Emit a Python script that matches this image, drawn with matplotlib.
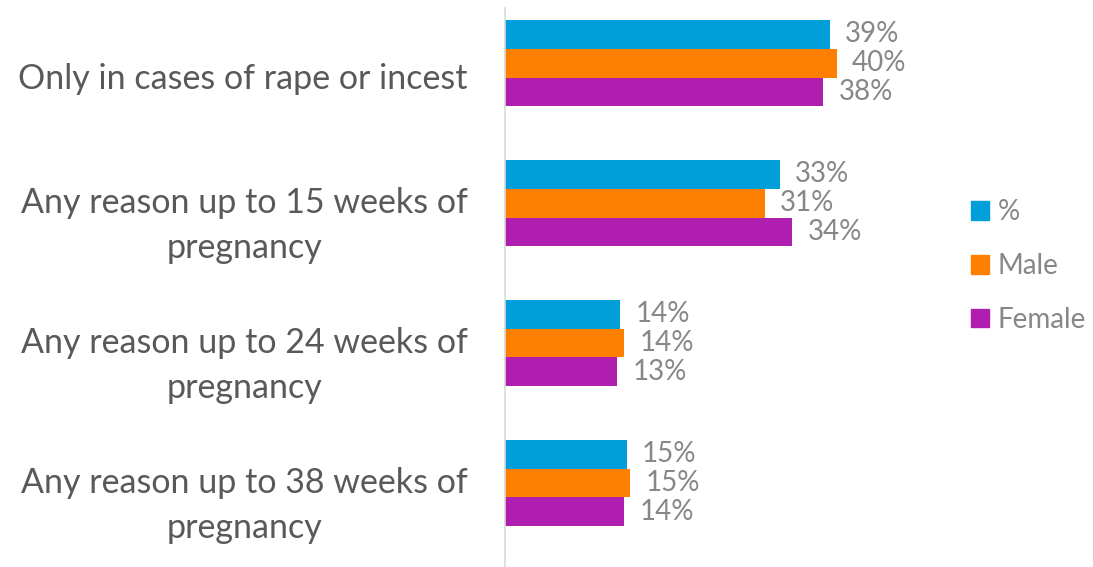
import matplotlib
matplotlib.use("Agg")
import matplotlib.pyplot as plt
import matplotlib.transforms as mtransforms
from matplotlib.patches import Patch
import numpy as np

plt.rcParams['font.family'] = ['Lato', 'DejaVu Sans']

# Data
categories = [
    "Only in cases of rape or incest",
    "Any reason up to 15 weeks of\npregnancy",
    "Any reason up to 24 weeks of\npregnancy",
    "Any reason up to 38 weeks of\npregnancy",
]
series_names = ["%", "Male", "Female"]
total_pct = [39.0, 33.0, 13.8, 14.6]
male_pct = [39.8, 31.2, 14.3, 15.0]
female_pct = [38.2, 34.5, 13.5, 14.3]
value_labels = [
    ["39%", "33%", "14%", "15%"],
    ["40%", "31%", "14%", "15%"],
    ["38%", "34%", "13%", "14%"],
]
colors = ["#009FDA", "#FF8000", "#B01EAF"]

W, H = 1093, 567
fig = plt.figure(figsize=(W / 100, H / 100), dpi=100)
# axes in pixel coords: left 505, right 940, top 8, bottom 567
ax = fig.add_axes([505 / W, 0, (940 - 505) / W, (567 - 8) / H])

bar_h = 0.207
y = np.arange(len(categories))
all_vals = [total_pct, male_pct, female_pct]
for i, (vals, col, name) in enumerate(zip(all_vals, colors, series_names)):
    pos = y + (i - 1) * bar_h
    ax.barh(pos, vals, height=bar_h, color=col, label=name)
    for p, v, lab in zip(pos, vals, value_labels[i]):
        ax.annotate(lab, (v, p), xytext=(11, 0), textcoords="offset points",
                    va="center", ha="left", fontsize=20, color="#878787")

ax.set_xlim(0, (940 - 505) / 8.33)
ax.set_ylim(3.6, -0.393)
ax.set_yticks(y)
ax.set_yticklabels(categories, fontsize=24.5, color="#595959", linespacing=1.5)
ax.tick_params(axis="y", length=0, pad=27)
ax.set_xticks([])
for s in ["top", "right", "bottom"]:
    ax.spines[s].set_visible(False)
ax.spines["left"].set_color("#D9D9D9")
ax.spines["left"].set_linewidth(1.2)

offset = mtransforms.ScaledTranslation(0, -9 / 72, fig.dpi_scale_trans)
for lab in ax.get_yticklabels():
    lab.set_transform(lab.get_transform() + offset)
    lab.set_ha("right")
    lab.set_multialignment("center")

handles = [Patch(color=c, label=n) for c, n in zip(colors, series_names)]
fig.legend(handles=handles, loc="center left", bbox_to_anchor=(971 / W, 1 - 266 / H),
           frameon=False, fontsize=20, labelcolor="#878787",
           handlelength=0.65, handleheight=0.65, handletextpad=0.3,
           labelspacing=1.0, borderpad=0, borderaxespad=0)

fig.savefig("out.png", dpi=100)
